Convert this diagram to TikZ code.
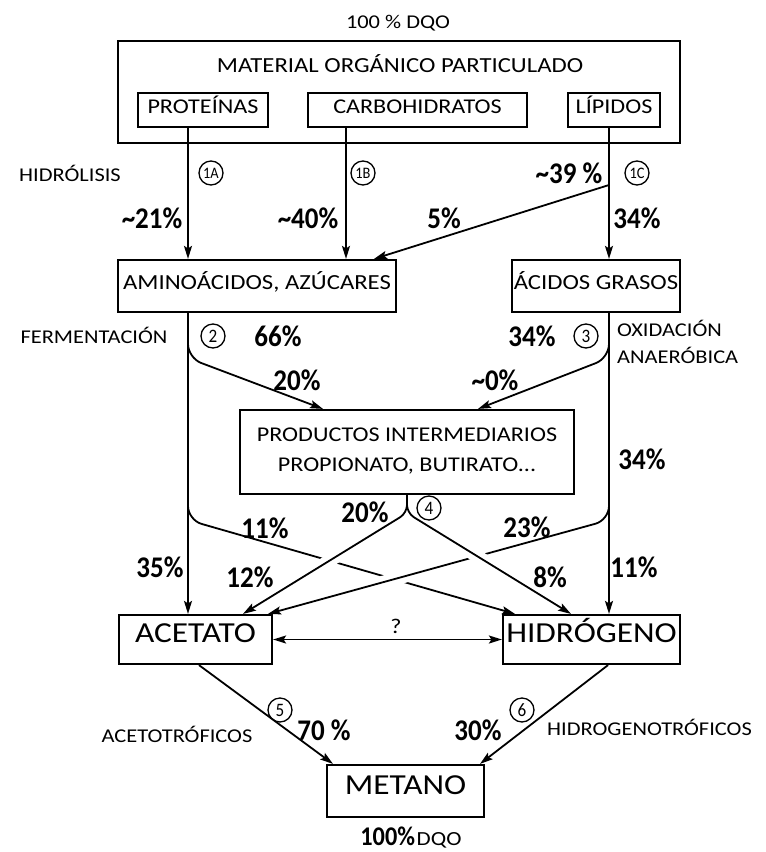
\documentclass[tikz,border=0pt]{standalone}
\usepackage{fontspec}
\setmainfont{Carlito}[FakeStretch=1.15]
\newfontfamily\pctfam{Carlito}[FakeStretch=0.9]
\usetikzlibrary{arrows.meta,intersections,calc}
\newcommand\fsz[1]{\fontsize{#1}{#1}\selectfont}
\begin{document}
\begin{tikzpicture}[x=1pt,y=-1pt,
  box/.style={draw, line width=2.2pt, inner sep=0pt, align=center, text height=0.64em, text depth=0pt},
  con/.style={line width=1.8pt},
  arr/.style={con,-{Stealth[length=13pt,width=8pt,inset=2.5pt]}},
  dbl/.style={con,{Stealth[length=13pt,width=8pt,inset=2.5pt]}-{Stealth[length=13pt,width=8pt,inset=2.5pt]}},
  lbl/.style={inner sep=0pt, font=\fsz{19.5}},
  pct/.style={inner sep=0pt, font=\pctfam\bfseries\fsz{30}},
  circ/.style={draw, circle, line width=1.3pt, minimum size=24pt, inner sep=0pt, font=\pctfam\fsz{19}},
  gap/.style={white, line width=13pt}
]
\useasboundingbox (0,0) rectangle (766,852);
% boxes
\node[lbl] (dqo1) at (398,23) {100 \% DQO};
\node[box, minimum width=562pt, minimum height=102pt] (mat) at (399,92) {};
\node[lbl, font=\fsz{21.5}] (matt) at (400,64) {MATERIAL ORGÁNICO PARTICULADO};
\node[box, minimum width=130pt, minimum height=34pt, font=\fsz{21}] (prot) at (203,110) {PROTEÍNAS};
\node[box, minimum width=219pt, minimum height=34pt, font=\fsz{21}] (carb) at (417.5,110) {CARBOHIDRATOS};
\node[box, minimum width=92pt, minimum height=34pt, font=\fsz{21}] (lip) at (614,110) {LÍPIDOS};
\node[box, minimum width=278pt, minimum height=52pt, font=\fsz{21.5}] (amino) at (257,286) {AMINOÁCIDOS, AZÚCARES};
\node[box, minimum width=168pt, minimum height=52pt, font=\fsz{21.5}] (grasos) at (596,286) {ÁCIDOS GRASOS};
\node[box, minimum width=334pt, minimum height=84pt] (prod) at (407,452) {};
\node[lbl, font=\fsz{21}] (prodA) at (407,435) {PRODUCTOS INTERMEDIARIOS};
\node[lbl, font=\fsz{21}] (prodB) at (407,466) {PROPIONATO, BUTIRATO...};
\node[box, minimum width=153pt, minimum height=49pt, font=\fsz{29}] (ace) at (195.5,639.5) {ACETATO};
\node[box, minimum width=177pt, minimum height=49pt, font=\fsz{29}] (hid) at (591.5,639.5) {HIDRÓGENO};
\node[box, minimum width=157pt, minimum height=52pt, font=\fsz{29}] (met) at (405.5,791) {METANO};
% columns
\coordinate (cA) at (188,0);
\coordinate (cB) at (346,0);
\coordinate (cC) at (609,0);
\draw[arr] (prot.south -| cA) -- (amino.north -| cA);
\draw[arr] (carb.south -| cB) -- (amino.north -| cB);
\draw[arr] (lip.south -| cC) -- (grasos.north -| cC);
\coordinate (j5) at (609,185);
\coordinate (t5) at (374,0);
\draw[arr] (j5) -- (amino.north -| t5);
\draw[arr] (amino.south -| cA) -- (ace.north -| cA);
\draw[arr] (grasos.south -| cC) -- (hid.north -| cC);
\coordinate (kL1) at (188,358);
\coordinate (tL1) at (323,0);
\draw[arr, rounded corners=14pt] (amino.south -| cA) -- (kL1) -- (prod.north -| tL1);
\coordinate (kR1) at (609,358);
\coordinate (tR1) at (478,0);
\draw[arr, rounded corners=14pt] (grasos.south -| cC) -- (kR1) -- (prod.north -| tR1);
% crossing lines
\coordinate (kL2) at (188,520);
\coordinate (tL2) at (515,0);
\coordinate (kR2) at (609,520);
\coordinate (tR2) at (268,0);
\coordinate (kC) at (407,513);
\coordinate (tC1) at (243,0);
\coordinate (tC2) at (571,0);
\path[name path=pL] (kL2) -- (hid.north -| tL2);
\path[name path=pR] (kR2) -- (ace.north -| tR2);
\path[name path=pC1] (kC) -- (ace.north -| tC1);
\path[name path=pC2] (kC) -- (hid.north -| tC2);
\path[name intersections={of=pL and pC1, by=xa}];
\path[name intersections={of=pL and pR, by=xb}];
\path[name intersections={of=pR and pC2, by=xc}];
\draw[arr, rounded corners=14pt] (amino.south -| cA) -- (kL2) -- (hid.north -| tL2);
\draw[gap] ($(xa)!8pt!(kC)$) -- ($(xa)!8pt!(ace.north -| tC1)$);
\draw[gap] ($(xb)!13pt!(kR2)$) -- ($(xb)!13pt!(ace.north -| tR2)$);
\draw[arr, rounded corners=14pt] (grasos.south -| cC) -- (kR2) -- (ace.north -| tR2);
\draw[gap] ($(xc)!8pt!(kC)$) -- ($(xc)!8pt!(hid.north -| tC2)$);
\draw[arr, rounded corners=8pt] (prod.south) -- (kC) -- (ace.north -| tC1);
\draw[arr, rounded corners=8pt] (prod.south) -- (kC) -- (hid.north -| tC2);
% acetate / hydrogen
\draw[dbl] (ace.east) -- (hid.west);
\node[lbl, font=\fsz{21}] (q) at (396,626) {?};
\coordinate (a5) at (199,0);
\coordinate (t5m) at (333,0);
\draw[arr] (ace.south -| a5) -- (met.north -| t5m);
\coordinate (a6) at (608,0);
\coordinate (t6m) at (480,0);
\draw[arr] (hid.south -| a6) -- (met.north -| t6m);
% labels
\node[lbl] (hidro) at (70,173) {HIDRÓLISIS};
\node[circ, font=\pctfam\fsz{16}] (c1a) at (211,173) {1A};
\node[circ, font=\pctfam\fsz{16}] (c1b) at (363,173) {1B};
\node[circ, font=\pctfam\fsz{16}] (c1c) at (637,173) {1C};
\node[pct] (p39) at (569,173) {\textasciitilde 39 \%};
\node[pct] (p21) at (152,218) {\textasciitilde 21\%};
\node[pct] (p40) at (308,218) {\textasciitilde 40\%};
\node[pct] (p5) at (444,218) {5\%};
\node[pct] (p34a) at (637,218) {34\%};
\node[lbl] (ferm) at (94,335) {FERMENTACIÓN};
\node[circ] (c2) at (213,336) {2};
\node[pct] (p66) at (278,336) {66\%};
\node[pct] (p34b) at (532,336) {34\%};
\node[circ] (c3) at (586,336) {3};
\node[lbl, anchor=west] (oxi) at (617,328) {OXIDACIÓN};
\node[lbl, anchor=west] (anae) at (617,355) {ANAERÓBICA};
\node[pct] (p20a) at (297,380) {20\%};
\node[pct] (p0) at (495,380) {\textasciitilde 0\%};
\node[pct] (p34c) at (642,459) {34\%};
\node[pct] (p20b) at (365,512) {20\%};
\node[circ] (c4) at (429,508) {4};
\node[pct] (p11a) at (265,528) {11\%};
\node[pct] (p23) at (527,527) {23\%};
\node[pct] (p35) at (160,567) {35\%};
\node[pct] (p12) at (250,577) {12\%};
\node[pct] (p8) at (550,577) {8\%};
\node[pct] (p11b) at (634,567) {11\%};
\node[circ] (c5) at (280,710) {5};
\node[pct] (p70) at (324,730) {70 \%};
\node[lbl] (acet) at (177,734) {ACETOTRÓFICOS};
\node[circ] (c6) at (522,710) {6};
\node[pct] (p30) at (478,730) {30\%};
\node[lbl, anchor=west] (hgt) at (547,727) {HIDROGENOTRÓFICOS};
\node[inner sep=0pt] (dqo2) at (411,838) {{\pctfam\bfseries\fsz{27}100\%}\,{\fsz{20}DQO}};
\end{tikzpicture}
\end{document}
